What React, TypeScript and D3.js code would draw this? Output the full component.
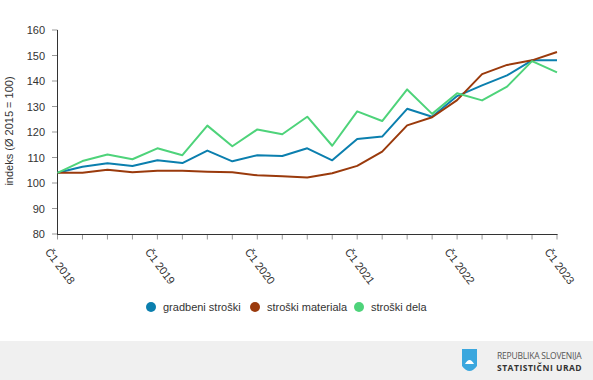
import React from "react";
import * as d3 from "d3";

const quarters = [
  "Č1 2018","Č2 2018","Č3 2018","Č4 2018",
  "Č1 2019","Č2 2019","Č3 2019","Č4 2019",
  "Č1 2020","Č2 2020","Č3 2020","Č4 2020",
  "Č1 2021","Č2 2021","Č3 2021","Č4 2021",
  "Č1 2022","Č2 2022","Č3 2022","Č4 2022",
  "Č1 2023",
];
const gradbeni = [104.0,106.4,107.7,106.7,108.9,107.8,112.7,108.5,110.9,110.6,113.6,108.9,117.3,118.2,129.1,126.0,134.1,138.3,142.2,148.1,148.1];
const materiala = [104.0,104.0,105.2,104.2,104.8,104.8,104.4,104.2,103.0,102.6,102.2,103.8,106.7,112.3,122.6,125.8,132.5,142.7,146.3,148.1,151.4];
const dela = [104.0,108.6,111.2,109.3,113.6,110.9,122.5,114.4,121.0,119.1,126.0,114.6,128.1,124.3,136.7,127.1,135.2,132.4,137.8,147.8,143.4];
const yTicks = [80,90,100,110,120,130,140,150,160];
const seriesNames = ["gradbeni stroški","stroški materiala","stroški dela"];
const seriesColors = ["#0b7fae","#9a3a0c","#4ed37a"];

export default function App() {
  const W = 593, H = 380;
  const x = d3.scalePoint<string>().domain(quarters).range([57.5, 557]);
  const y = d3.scaleLinear().domain([80, 160]).range([234, 30]);
  const line = d3.line<number>().x((_, i) => x(quarters[i]) as number).y(d => y(d));
  const data = [gradbeni, materiala, dela];
  const font = "Arial, 'Liberation Sans', sans-serif";
  const legendX = [151, 255, 359];
  return (
    <svg width={W} height={H} style={{ position: "absolute", left: 0, top: 0, fontFamily: font }}>
      <rect x={0} y={0} width={W} height={H} fill="#fff" />
      {/* y axis */}
      {yTicks.map(t => (
        <g key={t}>
          <line x1={52} x2={57.5} y1={y(t)} y2={y(t)} stroke="#999" />
          <text x={45} y={y(t) + 4} textAnchor="end" fontSize={11} fill="#333">{t}</text>
        </g>
      ))}
      <line x1={57.5} x2={57.5} y1={30} y2={234.5} stroke="#333" />
      <text transform={`translate(13,131) rotate(-90)`} textAnchor="middle" fontSize={11} fill="#333">indeks (Ø 2015 = 100)</text>
      {/* x axis */}
      {quarters.map((q, i) => (
        <g key={q}>
          <line x1={x(q)} x2={x(q)} y1={234} y2={239.5} stroke="#999" />
          {i % 4 === 0 && (
            <text transform={`translate(${(x(q) as number) - 13},252) rotate(53)`} fontSize={11} fill="#333">{q}</text>
          )}
        </g>
      ))}
      <line x1={57} x2={557.5} y1={234.5} y2={234.5} stroke="#333" />
      {/* lines */}
      {data.map((d, i) => (
        <path key={i} d={line(d) || ""} fill="none" stroke={seriesColors[i]} strokeWidth={2} strokeLinejoin="round" />
      ))}
      {/* legend */}
      {seriesNames.map((n, i) => (
        <g key={n}>
          <circle cx={legendX[i]} cy={307} r={5} fill={seriesColors[i]} />
          <text x={legendX[i] + 12} y={311} fontSize={11} fill="#333">{n}</text>
        </g>
      ))}
      {/* footer */}
      <rect x={0} y={341} width={W} height={39} fill="#f0f0f0" />
      <path d="M462,349 L477,349 L477,366 Q469.5,376 462,366 Z" fill="#3ba7de" />
      <path d="M465,364 Q469.5,356 474,364 Z" fill="#fff" />
      <text x={497} y={359} fontSize={8.5} fill="#555" fontFamily="'Open Sans', sans-serif" letterSpacing={-0.2}>REPUBLIKA SLOVENIJA</text>
      <text x={497} y={371} fontSize={8.5} fontWeight="bold" fill="#333" fontFamily="'Open Sans', sans-serif" letterSpacing={0.5}>STATISTIČNI URAD</text>
    </svg>
  );
}
